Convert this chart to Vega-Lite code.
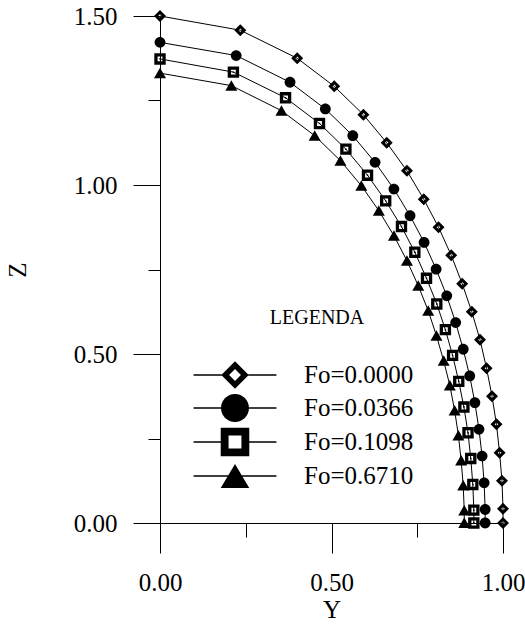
{
  "$schema": "https://vega.github.io/schema/vega-lite/v6.json",
  "width": 343,
  "height": 507,
  "autosize": {"type": "none"},
  "padding": {"left": 160, "top": 16, "right": 22, "bottom": 104},
  "background": "white",
  "config": {
    "view": {"stroke": null},
    "font": "Liberation Serif"
  },
  "data": {
    "values": [
      {"s": "Fo=0.0000", "i": 0, "Y": 0, "Z": 1.5},
      {"s": "Fo=0.0000", "i": 1, "Y": 0.234, "Z": 1.458},
      {"s": "Fo=0.0000", "i": 2, "Y": 0.4, "Z": 1.375},
      {"s": "Fo=0.0000", "i": 3, "Y": 0.508, "Z": 1.292},
      {"s": "Fo=0.0000", "i": 4, "Y": 0.593, "Z": 1.208},
      {"s": "Fo=0.0000", "i": 5, "Y": 0.661, "Z": 1.125},
      {"s": "Fo=0.0000", "i": 6, "Y": 0.72, "Z": 1.042},
      {"s": "Fo=0.0000", "i": 7, "Y": 0.769, "Z": 0.958},
      {"s": "Fo=0.0000", "i": 8, "Y": 0.812, "Z": 0.875},
      {"s": "Fo=0.0000", "i": 9, "Y": 0.849, "Z": 0.792},
      {"s": "Fo=0.0000", "i": 10, "Y": 0.881, "Z": 0.708},
      {"s": "Fo=0.0000", "i": 11, "Y": 0.909, "Z": 0.625},
      {"s": "Fo=0.0000", "i": 12, "Y": 0.933, "Z": 0.542},
      {"s": "Fo=0.0000", "i": 13, "Y": 0.952, "Z": 0.458},
      {"s": "Fo=0.0000", "i": 14, "Y": 0.968, "Z": 0.375},
      {"s": "Fo=0.0000", "i": 15, "Y": 0.981, "Z": 0.292},
      {"s": "Fo=0.0000", "i": 16, "Y": 0.99, "Z": 0.208},
      {"s": "Fo=0.0000", "i": 17, "Y": 0.997, "Z": 0.125},
      {"s": "Fo=0.0000", "i": 18, "Y": 1.0, "Z": 0.042},
      {"s": "Fo=0.0000", "i": 19, "Y": 1.0, "Z": 0},
      {"s": "Fo=0.0366", "i": 0, "Y": 0, "Z": 1.422},
      {"s": "Fo=0.0366", "i": 1, "Y": 0.222, "Z": 1.383},
      {"s": "Fo=0.0366", "i": 2, "Y": 0.379, "Z": 1.304},
      {"s": "Fo=0.0366", "i": 3, "Y": 0.482, "Z": 1.225},
      {"s": "Fo=0.0366", "i": 4, "Y": 0.562, "Z": 1.146},
      {"s": "Fo=0.0366", "i": 5, "Y": 0.627, "Z": 1.067},
      {"s": "Fo=0.0366", "i": 6, "Y": 0.682, "Z": 0.988},
      {"s": "Fo=0.0366", "i": 7, "Y": 0.729, "Z": 0.909},
      {"s": "Fo=0.0366", "i": 8, "Y": 0.77, "Z": 0.83},
      {"s": "Fo=0.0366", "i": 9, "Y": 0.805, "Z": 0.751},
      {"s": "Fo=0.0366", "i": 10, "Y": 0.836, "Z": 0.672},
      {"s": "Fo=0.0366", "i": 11, "Y": 0.862, "Z": 0.593},
      {"s": "Fo=0.0366", "i": 12, "Y": 0.884, "Z": 0.514},
      {"s": "Fo=0.0366", "i": 13, "Y": 0.903, "Z": 0.435},
      {"s": "Fo=0.0366", "i": 14, "Y": 0.918, "Z": 0.356},
      {"s": "Fo=0.0366", "i": 15, "Y": 0.93, "Z": 0.277},
      {"s": "Fo=0.0366", "i": 16, "Y": 0.939, "Z": 0.198},
      {"s": "Fo=0.0366", "i": 17, "Y": 0.945, "Z": 0.119},
      {"s": "Fo=0.0366", "i": 18, "Y": 0.948, "Z": 0.04},
      {"s": "Fo=0.0366", "i": 19, "Y": 0.948, "Z": 0},
      {"s": "Fo=0.1098", "i": 0, "Y": 0, "Z": 1.373},
      {"s": "Fo=0.1098", "i": 1, "Y": 0.214, "Z": 1.334},
      {"s": "Fo=0.1098", "i": 2, "Y": 0.366, "Z": 1.258},
      {"s": "Fo=0.1098", "i": 3, "Y": 0.465, "Z": 1.182},
      {"s": "Fo=0.1098", "i": 4, "Y": 0.542, "Z": 1.106},
      {"s": "Fo=0.1098", "i": 5, "Y": 0.605, "Z": 1.029},
      {"s": "Fo=0.1098", "i": 6, "Y": 0.658, "Z": 0.953},
      {"s": "Fo=0.1098", "i": 7, "Y": 0.704, "Z": 0.877},
      {"s": "Fo=0.1098", "i": 8, "Y": 0.743, "Z": 0.801},
      {"s": "Fo=0.1098", "i": 9, "Y": 0.777, "Z": 0.724},
      {"s": "Fo=0.1098", "i": 10, "Y": 0.807, "Z": 0.648},
      {"s": "Fo=0.1098", "i": 11, "Y": 0.832, "Z": 0.572},
      {"s": "Fo=0.1098", "i": 12, "Y": 0.853, "Z": 0.496},
      {"s": "Fo=0.1098", "i": 13, "Y": 0.871, "Z": 0.419},
      {"s": "Fo=0.1098", "i": 14, "Y": 0.886, "Z": 0.343},
      {"s": "Fo=0.1098", "i": 15, "Y": 0.898, "Z": 0.267},
      {"s": "Fo=0.1098", "i": 16, "Y": 0.906, "Z": 0.191},
      {"s": "Fo=0.1098", "i": 17, "Y": 0.912, "Z": 0.114},
      {"s": "Fo=0.1098", "i": 18, "Y": 0.915, "Z": 0.038},
      {"s": "Fo=0.1098", "i": 19, "Y": 0.915, "Z": 0},
      {"s": "Fo=0.6710", "i": 0, "Y": 0, "Z": 1.331},
      {"s": "Fo=0.6710", "i": 1, "Y": 0.208, "Z": 1.294},
      {"s": "Fo=0.6710", "i": 2, "Y": 0.354, "Z": 1.22},
      {"s": "Fo=0.6710", "i": 3, "Y": 0.451, "Z": 1.146},
      {"s": "Fo=0.6710", "i": 4, "Y": 0.526, "Z": 1.072},
      {"s": "Fo=0.6710", "i": 5, "Y": 0.587, "Z": 0.998},
      {"s": "Fo=0.6710", "i": 6, "Y": 0.638, "Z": 0.924},
      {"s": "Fo=0.6710", "i": 7, "Y": 0.682, "Z": 0.85},
      {"s": "Fo=0.6710", "i": 8, "Y": 0.72, "Z": 0.776},
      {"s": "Fo=0.6710", "i": 9, "Y": 0.753, "Z": 0.702},
      {"s": "Fo=0.6710", "i": 10, "Y": 0.782, "Z": 0.628},
      {"s": "Fo=0.6710", "i": 11, "Y": 0.806, "Z": 0.554},
      {"s": "Fo=0.6710", "i": 12, "Y": 0.827, "Z": 0.48},
      {"s": "Fo=0.6710", "i": 13, "Y": 0.845, "Z": 0.407},
      {"s": "Fo=0.6710", "i": 14, "Y": 0.859, "Z": 0.333},
      {"s": "Fo=0.6710", "i": 15, "Y": 0.87, "Z": 0.259},
      {"s": "Fo=0.6710", "i": 16, "Y": 0.878, "Z": 0.185},
      {"s": "Fo=0.6710", "i": 17, "Y": 0.884, "Z": 0.111},
      {"s": "Fo=0.6710", "i": 18, "Y": 0.887, "Z": 0.037},
      {"s": "Fo=0.6710", "i": 19, "Y": 0.887, "Z": 0}
    ]
  },
  "encoding": {
    "x": {
      "field": "Y", "type": "quantitative",
      "scale": {"domain": [0, 1], "nice": false, "zero": false},
      "axis": {
        "title": "Y",
        "values": [0, 0.25, 0.5, 0.75, 1],
        "labelExpr": "datum.value % 0.5 == 0 ? format(datum.value, '.2f') : ''",
        "tickSize": {"condition": {"test": "datum.value % 0.5 != 0", "value": 14}, "value": 30},
        "tickColor": "black", "tickWidth": 1,
        "domainColor": "black", "domainWidth": 1,
        "grid": false,
        "labelFont": "Liberation Serif", "labelFontSize": 25, "labelColor": "black",
        "labelPadding": 17, "labelFlush": false, "labelOverlap": false,
        "titleFont": "Liberation Serif", "titleFontSize": 25, "titleFontWeight": "normal",
        "titleColor": "black", "titlePadding": 2
      }
    },
    "y": {
      "field": "Z", "type": "quantitative",
      "scale": {"domain": [0, 1.5], "nice": false, "zero": false},
      "axis": {
        "title": "Z",
        "values": [0, 0.25, 0.5, 0.75, 1, 1.25, 1.5],
        "labelExpr": "datum.value % 0.5 == 0 ? format(datum.value, '.2f') : ''",
        "tickSize": {"condition": {"test": "datum.value % 0.5 != 0", "value": 12}, "value": 27},
        "tickColor": "black", "tickWidth": 1,
        "domainColor": "black", "domainWidth": 1,
        "grid": false,
        "labelFont": "Liberation Serif", "labelFontSize": 25, "labelColor": "black",
        "labelPadding": 16, "labelFlush": false, "labelOverlap": false,
        "titleFont": "Liberation Serif", "titleFontSize": 25, "titleFontWeight": "normal",
        "titleColor": "black", "titlePadding": 43
      }
    }
  },
  "layer": [
    {
      "mark": {"type": "line", "color": "black", "strokeWidth": 1, "clip": false},
      "encoding": {
        "detail": {"field": "s", "type": "nominal"},
        "order": {"field": "i", "type": "quantitative"}
      }
    },
    {
      "mark": {"type": "point", "filled": true, "fill": "black", "strokeWidth": 0, "opacity": 1, "size": 144, "clip": false},
      "encoding": {
        "shape": {
          "field": "s", "type": "nominal",
          "scale": {
            "domain": ["Fo=0.0000", "Fo=0.0366", "Fo=0.1098", "Fo=0.6710"],
            "range": [
              "M0,-1L1,0L0,1L-1,0ZM0,-0.3L-0.3,0L0,0.3L0.3,0Z",
              "M-0.9,0A0.9,0.9,0,1,0,0.9,0A0.9,0.9,0,1,0,-0.9,0Z",
              "M-0.95,-0.95L0.95,-0.95L0.95,0.95L-0.95,0.95ZM-0.4,-0.4L-0.4,0.4L0.4,0.4L0.4,-0.4ZM-0.12,-0.12L0.12,-0.12L0.12,0.12L-0.12,0.12Z",
              "M0,-0.9L1,0.85L-1,0.85Z"
            ]
          },
          "legend": null
        }
      }
    },
    {
      "transform": [{"filter": "false"}],
      "mark": {"type": "point", "filled": true, "fill": "black", "opacity": 1, "size": 784, "clip": false},
      "encoding": {
        "shape": {
          "field": "s", "type": "nominal",
          "scale": {
            "domain": ["Fo=0.0000", "Fo=0.0366", "Fo=0.1098", "Fo=0.6710"],
            "range": [
              "M-2.96,-0.05L-0.95,-0.05L-0.95,0.05L-2.96,0.05ZM0.95,-0.05L2.96,-0.05L2.96,0.05L0.95,0.05ZM0,-0.98L0.98,0L0,0.98L-0.98,0ZM0,-0.42L-0.42,0L0,0.42L0.42,0Z",
              "M-2.96,-0.05L-0.9,-0.05L-0.9,0.05L-2.96,0.05ZM0.9,-0.05L2.96,-0.05L2.96,0.05L0.9,0.05ZM-1,0A1,1,0,1,1,1,0A1,1,0,1,1,-1,0Z",
              "M-2.96,-0.05L-1,-0.05L-1,0.05L-2.96,0.05ZM1,-0.05L2.96,-0.05L2.96,0.05L1,0.05ZM-1.02,-1.02L1.02,-1.02L1.02,1.02L-1.02,1.02ZM-0.46,-0.46L-0.46,0.46L0.46,0.46L0.46,-0.46Z",
              "M-2.96,-0.05L-0.45,-0.05L-0.45,0.05L-2.96,0.05ZM0.45,-0.05L2.96,-0.05L2.96,0.05L0.45,0.05ZM0,-0.85L1.02,0.85L-1.02,0.85Z"
            ]
          },
          "legend": {
            "title": "LEGENDA",
            "orient": "none",
            "legendX": 61,
            "legendY": 292,
            "padding": 0,
            "titleFont": "Liberation Serif", "titleFontSize": 20, "titleFontWeight": "normal",
            "titleColor": "black", "titleAnchor": "middle", "titlePadding": 33,
            "labelFont": "Liberation Serif", "labelFontSize": 25, "labelColor": "black",
            "labelOffset": 55,
            "symbolSize": 784,
            "symbolFillColor": "black",
            "symbolStrokeWidth": 0,
            "symbolOpacity": 1,
            "rowPadding": 5
          }
        }
      }
    }
  ],
  "resolve": {"scale": {"shape": "independent"}}
}
